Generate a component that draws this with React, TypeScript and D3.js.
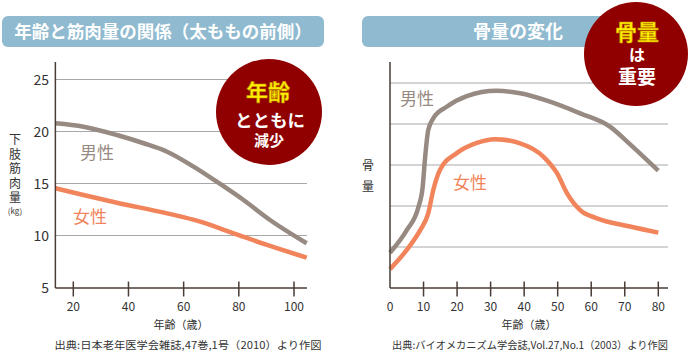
import React from "react";
import * as d3 from "d3";

// 筋肉量（左）
const muscleMaleAge = [13.5, 23.7, 35.8, 45.5, 54, 63.6, 72, 81.7, 91.3, 104.6];
const muscleMale = [20.79, 20.46, 19.66, 18.87, 18.06, 16.62, 15.17, 13.41, 11.49, 9.25];
const muscleFemaleAge = [13.5, 23.7, 35.8, 54, 66, 78.1, 90.2, 104.6];
const muscleFemale = [14.54, 13.89, 13.15, 12.13, 11.33, 10.21, 9.09, 7.87];
const muscleYTicks = [5, 10, 15, 20, 25];
const muscleXTicks = [20, 40, 60, 80, 100];

// 骨量（右）
const boneMaleAge = [0, 5, 8.5, 9.75, 10.4, 11.4, 12.9, 16.9, 22.9, 31.8, 38.8, 46.8, 56.7, 65.7, 70.7, 80];
const boneMale = [0.86, 1.41, 1.98, 2.47, 3.12, 3.85, 4.14, 4.42, 4.68, 4.81, 4.75, 4.57, 4.26, 3.93, 3.57, 2.86];
const boneFemaleAge = [0, 5, 9, 11.4, 12.9, 14.9, 19.9, 25.9, 31.3, 38.8, 45.8, 49.8, 52.8, 56.7, 61.7, 71.6, 80];
const boneFemale = [0.46, 0.93, 1.41, 1.82, 2.39, 2.88, 3.29, 3.54, 3.63, 3.53, 3.2, 2.8, 2.31, 1.9, 1.7, 1.5, 1.35];
const boneGrid = [1, 2, 3, 4, 5];
const boneXTicks = [0, 10, 20, 30, 40, 50, 60, 70, 80];

const FONT = "'Noto Sans CJK JP', 'Noto Sans', sans-serif";
const MALE = "#978a82";
const FEMALE = "#f2845c";
const AXIS = "#4a3c36";
const GRID = "#a8a8a8";
const BAR = "#8fbad0";
const BADGE = "#900000";
const YELLOW = "#fff000";

const mx = d3.scaleLinear().domain([20, 100]).range([73.3, 294]);
const my = d3.scaleLinear().domain([5, 25]).range([287.5, 79.5]);
const bx = d3.scaleLinear().domain([0, 80]).range([390, 658.3]);
const by = d3.scaleLinear().domain([0, 6]).range([288, 42]);

const zip = (a: number[], b: number[]) => a.map((v, i) => [v, b[i]] as [number, number]);

const mLine = d3.line<[number, number]>().x((d) => mx(d[0])).y((d) => my(d[1])).curve(d3.curveMonotoneX);
const bLine = d3.line<[number, number]>().x((d) => bx(d[0])).y((d) => by(d[1])).curve(d3.curveMonotoneX);

const App = () => {
  const mLeft = mx(13.5);
  const mRight = mx(104.7);
  const bLeft = bx(0);
  const bRight = 668;
  return (
    <svg width={690} height={352} style={{ position: "absolute", left: 0, top: 0 }} fontFamily={FONT}>
      <rect width={690} height={352} fill="#fff" />

      {/* 左パネル */}
      <rect x={2} y={16} width={322} height={31} rx={6} fill={BAR} />
      <text x={163} y={38} textAnchor="middle" fill="#fff" fontSize={17.5} fontWeight="bold">
        年齢と筋肉量の関係（太ももの前側）
      </text>
      {muscleYTicks.filter((t) => t > 5).map((t) => (
        <line key={t} x1={mLeft} x2={mRight} y1={my(t)} y2={my(t)} stroke={GRID} strokeWidth={1} />
      ))}
      {muscleYTicks.map((t) => (
        <text key={t} x={49} y={my(t) + 5} textAnchor="end" fontSize={14} fill="#333">
          {t}
        </text>
      ))}
      <g fill="#333" fontSize={12} textAnchor="middle">
        {"下肢筋肉量".split("").map((c, i) => (
          <text key={i} x={15} y={144 + i * 14.5}>
            {c}
          </text>
        ))}
        <text x={15} y={214} fontSize={8}>
          (kg)
        </text>
      </g>
      <path d={mLine(zip(muscleMaleAge, muscleMale)) ?? ""} fill="none" stroke={MALE} strokeWidth={4.5} />
      <path d={mLine(zip(muscleFemaleAge, muscleFemale)) ?? ""} fill="none" stroke={FEMALE} strokeWidth={4.5} />
      <text x={80} y={159} fontSize={17} fill={MALE}>
        男性
      </text>
      <text x={73} y={223} fontSize={17} fill={FEMALE}>
        女性
      </text>
      <line x1={mLeft} x2={mLeft} y1={62} y2={288} stroke={AXIS} strokeWidth={1.5} />
      <line x1={mLeft} x2={mRight} y1={288} y2={288} stroke={AXIS} strokeWidth={1.5} />
      {muscleXTicks.map((t) => (
        <g key={t}>
          <line x1={mx(t)} x2={mx(t)} y1={281.5} y2={296.5} stroke={AXIS} strokeWidth={1.5} />
          <text x={mx(t)} y={311} textAnchor="middle" fontSize={12} fill="#333">
            {t}
          </text>
        </g>
      ))}
      <text x={181} y={329} textAnchor="middle" fontSize={11} fill="#333">
        年齢（歳）
      </text>
      <text x={188} y={349} textAnchor="middle" fontSize={10.5} fill="#333" textLength={267} lengthAdjust="spacingAndGlyphs">
        出典:日本老年医学会雑誌,47巻,1号（2010）より作図
      </text>
      <circle cx={269} cy={112} r={53} fill={BADGE} />
      <text x={268} y={100} textAnchor="middle" fontSize={22} fontWeight="bold" fill={YELLOW} stroke="#c89000" strokeWidth={0.6}>
        年齢
      </text>
      <text x={270} y={127} textAnchor="middle" fontSize={17.5} fontWeight="bold" fill="#fff">
        とともに
      </text>
      <text x={269} y={146} textAnchor="middle" fontSize={15} fontWeight="bold" fill="#fff">
        減少
      </text>

      {/* 右パネル */}
      <rect x={362} y={16} width={313} height={31} rx={6} fill={BAR} />
      <text x={518} y={38} textAnchor="middle" fill="#fff" fontSize={18} fontWeight="bold">
        骨量の変化
      </text>
      {boneGrid.map((t) => (
        <line key={t} x1={bLeft} x2={bRight} y1={by(t)} y2={by(t)} stroke={GRID} strokeWidth={1} />
      ))}
      <g fill="#333" fontSize={12} textAnchor="middle">
        <text x={368} y={170}>
          骨
        </text>
        <text x={368} y={191}>
          量
        </text>
      </g>
      <path d={bLine(zip(boneMaleAge, boneMale)) ?? ""} fill="none" stroke={MALE} strokeWidth={4.5} />
      <path d={bLine(zip(boneFemaleAge, boneFemale)) ?? ""} fill="none" stroke={FEMALE} strokeWidth={4.5} />
      <text x={400} y={105} fontSize={17} fill={MALE}>
        男性
      </text>
      <text x={453} y={189} fontSize={17} fill={FEMALE}>
        女性
      </text>
      <line x1={bLeft} x2={bLeft} y1={62} y2={288} stroke={AXIS} strokeWidth={1.5} />
      <line x1={bLeft} x2={bRight} y1={288} y2={288} stroke={AXIS} strokeWidth={1.5} />
      {boneXTicks.map((t) => (
        <g key={t}>
          {t > 0 && <line x1={bx(t)} x2={bx(t)} y1={281.5} y2={296.5} stroke={AXIS} strokeWidth={1.5} />}
          <text x={bx(t)} y={311} textAnchor="middle" fontSize={12} fill="#333">
            {t}
          </text>
        </g>
      ))}
      <text x={529} y={329} textAnchor="middle" fontSize={11} fill="#333">
        年齢（歳）
      </text>
      <text x={530} y={349} textAnchor="middle" fontSize={10.5} fill="#333" textLength={276} lengthAdjust="spacingAndGlyphs">
        出典:バイオメカニズム学会誌,Vol.27,No.1（2003）より作図
      </text>
      <circle cx={636} cy={54} r={52} fill={BADGE} />
      <text x={637} y={40} textAnchor="middle" fontSize={22} fontWeight="bold" fill={YELLOW} stroke="#c89000" strokeWidth={0.6}>
        骨量
      </text>
      <text x={637} y={61} textAnchor="middle" fontSize={16} fontWeight="bold" fill="#fff">
        は
      </text>
      <text x={637} y={84} textAnchor="middle" fontSize={19} fontWeight="bold" fill="#fff">
        重要
      </text>
    </svg>
  );
};

export default App;
